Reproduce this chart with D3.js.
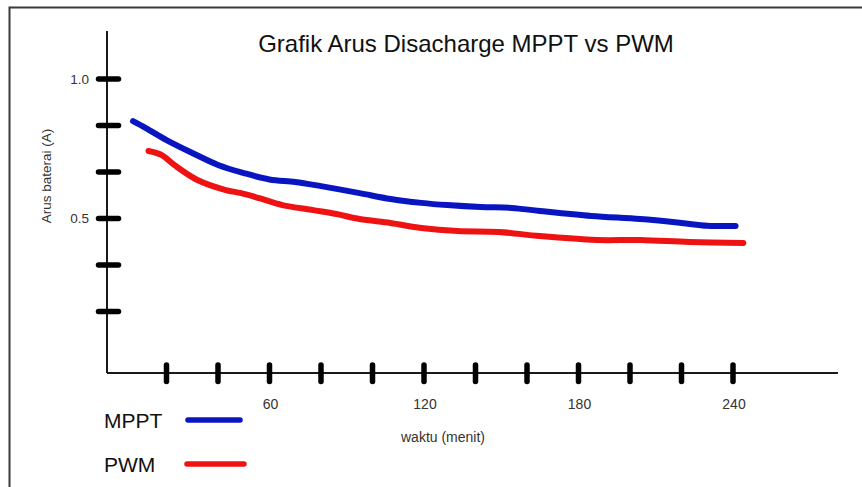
<!DOCTYPE html>
<html>
<head>
<meta charset="utf-8">
<script src="https://cdn.jsdelivr.net/npm/d3@7"></script>
<style>
  html, body { margin: 0; padding: 0; background: #fff; }
  svg { display: block; font-family: "Liberation Sans", Arial, sans-serif; }
</style>
</head>
<body>
<svg id="chart" width="862" height="487"></svg>
<script>
// values (minutes vs battery current in A)
const mpptMinutes = [7, 12, 20, 30, 40, 50, 60, 70, 80, 95, 107, 119, 129, 142, 154, 165, 185, 204, 220, 230, 241];
const mpptValues  = [0.849, 0.824, 0.781, 0.735, 0.692, 0.663, 0.640, 0.631, 0.616, 0.591, 0.570, 0.556, 0.548, 0.541, 0.538, 0.527, 0.509, 0.498, 0.484, 0.474, 0.473];

const pwmMinutes = [13, 18, 23, 32, 43, 49, 56, 65, 77, 86, 95, 107, 119, 133, 149, 165, 187, 204, 223, 244];
const pwmValues  = [0.742, 0.728, 0.692, 0.638, 0.602, 0.591, 0.573, 0.548, 0.530, 0.516, 0.498, 0.484, 0.466, 0.455, 0.452, 0.437, 0.423, 0.423, 0.416, 0.412];

const xTickValues = [20, 40, 60, 80, 100, 120, 140, 160, 180, 200, 220, 240];
const xTickLabels = [60, 120, 180, 240];
const yTickValues = [1 / 6, 2 / 6, 3 / 6, 4 / 6, 5 / 6, 1];
const yTickLabels = [0.5, 1.0];

const seriesNames = ['MPPT', 'PWM'];
const seriesColors = ['#0a15c2', '#ee1212'];

const svg = d3.select('#chart');

const x = d3.scaleLinear().domain([0, 240]).range([115, 733]);
const y = d3.scaleLinear().domain([0, 1]).range([358, 79]);

const axisLeftX = 107, axisBottomY = 373;

// frame
svg.append('path')
    .attr('d', 'M9.5,490 L9.5,7.5 L865,7.5')
    .attr('fill', 'none')
    .attr('stroke', '#3a3a3a')
    .attr('stroke-width', 2);

// title
svg.append('text')
    .attr('x', 466)
    .attr('y', 52)
    .attr('text-anchor', 'middle')
    .attr('font-size', '24px')
    .attr('fill', '#111')
    .text('Grafik Arus Disacharge MPPT vs PWM');

// axes lines
svg.append('line')
    .attr('x1', axisLeftX).attr('x2', axisLeftX)
    .attr('y1', 31).attr('y2', axisBottomY)
    .attr('stroke', '#1a1a1a').attr('stroke-width', 2);
svg.append('line')
    .attr('x1', axisLeftX).attr('x2', 838)
    .attr('y1', axisBottomY).attr('y2', axisBottomY)
    .attr('stroke', '#1a1a1a').attr('stroke-width', 2);

// y ticks (thick bars across the axis)
svg.selectAll('.ytick')
    .data(yTickValues)
    .join('line')
    .attr('class', 'ytick')
    .attr('x1', 98.5).attr('x2', 118.5)
    .attr('y1', d => y(d)).attr('y2', d => y(d))
    .attr('stroke', '#000').attr('stroke-width', 5.5)
    .attr('stroke-linecap', 'round');

svg.selectAll('.ylabel')
    .data(yTickLabels)
    .join('text')
    .attr('class', 'ylabel')
    .attr('x', 89)
    .attr('y', d => y(d) + 4.5)
    .attr('text-anchor', 'end')
    .attr('font-size', '13.5px')
    .attr('fill', '#333')
    .text(d => d.toFixed(1));

// x ticks
svg.selectAll('.xtick')
    .data(xTickValues)
    .join('line')
    .attr('class', 'xtick')
    .attr('x1', d => x(d)).attr('x2', d => x(d))
    .attr('y1', 365).attr('y2', 381.5)
    .attr('stroke', '#000').attr('stroke-width', 5.5)
    .attr('stroke-linecap', 'round');

svg.selectAll('.xlabel')
    .data(xTickLabels)
    .join('text')
    .attr('class', 'xlabel')
    .attr('x', d => x(d) + 1)
    .attr('y', 409)
    .attr('text-anchor', 'middle')
    .attr('font-size', '14px')
    .attr('fill', '#333')
    .text(d => d);

// axis titles
svg.append('text')
    .attr('x', 443)
    .attr('y', 442)
    .attr('text-anchor', 'middle')
    .attr('font-size', '14px')
    .attr('fill', '#333')
    .text('waktu (menit)');

svg.append('text')
    .attr('transform', 'translate(51,176) rotate(-90)')
    .attr('text-anchor', 'middle')
    .attr('font-size', '13.5px')
    .attr('fill', '#333')
    .text('Arus baterai (A)');

// series
const series = [
    d3.zip(mpptMinutes, mpptValues),
    d3.zip(pwmMinutes, pwmValues)
];

const line = d3.line()
    .x(d => x(d[0]))
    .y(d => y(d[1]))
    .curve(d3.curveCatmullRom.alpha(0.5));

svg.selectAll('.series')
    .data(series)
    .join('path')
    .attr('class', 'series')
    .attr('d', line)
    .attr('fill', 'none')
    .attr('stroke', (d, i) => seriesColors[i])
    .attr('stroke-width', 6)
    .attr('stroke-linecap', 'round')
    .attr('stroke-linejoin', 'round');

// legend
const legendY = [420, 464];
const legend = svg.selectAll('.legend')
    .data(seriesNames)
    .join('g')
    .attr('class', 'legend')
    .attr('transform', (d, i) => `translate(0,${legendY[i]})`);

legend.append('text')
    .attr('x', 104)
    .attr('y', 8)
    .attr('font-size', '21px')
    .attr('fill', '#111')
    .text(d => d);

legend.append('line')
    .attr('x1', (d, i) => i === 0 ? 188 : 187)
    .attr('x2', (d, i) => i === 0 ? 240 : 244)
    .attr('y1', 0).attr('y2', 0)
    .attr('stroke', (d, i) => seriesColors[i])
    .attr('stroke-width', 5.5)
    .attr('stroke-linecap', 'round');
</script>
</body>
</html>
